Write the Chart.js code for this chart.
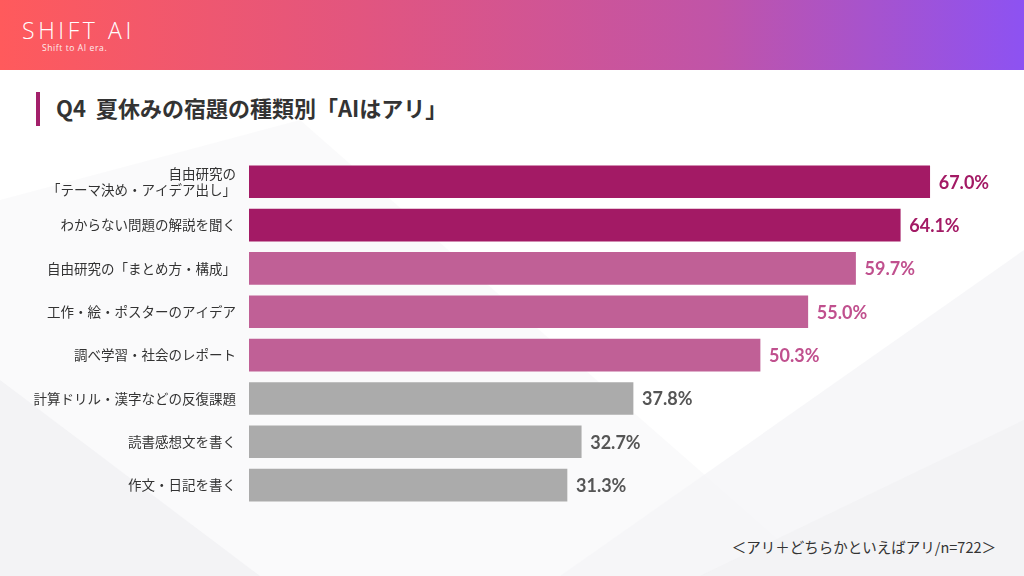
<!DOCTYPE html>
<html lang="ja">
<head>
<meta charset="utf-8">
<script src="https://cdn.jsdelivr.net/npm/chart.js@4/dist/chart.umd.min.js"></script>
<style>
  html, body { margin: 0; padding: 0; }
  body { width: 1024px; height: 576px; position: relative; overflow: hidden; background: #fff;
         font-family: "Noto Sans CJK JP", "Noto Sans", sans-serif; }
  #bg { position: absolute; left: 0; top: 70px; width: 1024px; height: 506px; }
  #header { position: absolute; left: 0; top: 0; width: 1024px; height: 70px;
            background: linear-gradient(90deg, #ff5a5c 0%, #e2557f 35%, #c054a8 70%, #8d52f2 100%); }
  #logo { position: absolute; left: 22px; top: 14px; color: #fff; font-family: "Open Sans", sans-serif;
          font-weight: 300; font-size: 23px; letter-spacing: 3.6px; }
  #tagline { position: absolute; left: 42px; top: 42px; color: #fff; font-family: "Open Sans", sans-serif;
             font-size: 8.5px; letter-spacing: 0.6px; opacity: 0.9; }
  #accent { position: absolute; left: 36px; top: 92px; width: 4px; height: 34px; background: #a3206a; }
  #title { position: absolute; left: 56px; top: 92px; font-size: 22px; font-weight: 700; color: #333;
           line-height: 30px; }
  #note { position: absolute; right: 28px; top: 536px; font-size: 14.5px; color: #333; }
  #wrap { position: absolute; left: 0; top: 147px; width: 1024px; height: 381px; }
</style>
</head>
<body>
<svg id="bg" viewBox="0 70 1024 506" preserveAspectRatio="none">
  <polygon points="0,200 300,120 820,576 0,576" fill="#f6f6f8" opacity="0.6"/>
  <polygon points="0,380 260,576 0,576" fill="#efeff2" opacity="0.6"/>
  <polygon points="560,576 1024,250 1024,576" fill="#f5f5f7" opacity="0.8"/>
  <polygon points="700,576 1024,420 1024,576" fill="#efeff2" opacity="0.5"/>
</svg>
<div id="header">
  <div id="logo">SHIFT AI</div>
  <div id="tagline">Shift to AI era.</div>
</div>
<div id="accent"></div>
<div id="title">Q4&nbsp; 夏休みの宿題の種類別「AIはアリ」</div>
<div id="wrap"><canvas id="c" width="1024" height="381"></canvas></div>
<div id="note">＜アリ＋どちらかといえばアリ/n=722＞</div>
<script>
var labels = [
  ["自由研究の", "「テーマ決め・アイデア出し」"],
  "わからない問題の解説を聞く",
  "自由研究の「まとめ方・構成」",
  "工作・絵・ポスターのアイデア",
  "調べ学習・社会のレポート",
  "計算ドリル・漢字などの反復課題",
  "読書感想文を書く",
  "作文・日記を書く"
];
var values = [67.0, 64.1, 59.7, 55.0, 50.3, 37.8, 32.7, 31.3];
var barColors = ["#a31a65", "#a31a65", "#c06096", "#c06096", "#c06096", "#ababab", "#ababab", "#ababab"];
var valueColors = ["#a31a65", "#a31a65", "#c0508e", "#c0508e", "#c0508e", "#555555", "#555555", "#555555"];

var valueLabels = {
  id: "valueLabels",
  afterDatasetsDraw: function (chart) {
    var ctx = chart.ctx;
    var meta = chart.getDatasetMeta(0);
    ctx.save();
    ctx.font = "700 18px Lato, 'Noto Sans', sans-serif";
    ctx.textBaseline = "middle";
    ctx.textAlign = "left";
    meta.data.forEach(function (bar, i) {
      ctx.fillStyle = valueColors[i];
      ctx.fillText(values[i].toFixed(1) + "%", bar.x + 9, bar.y + 1);
    });
    ctx.restore();
  }
};

new Chart(document.getElementById("c"), {
  type: "bar",
  data: {
    labels: labels,
    datasets: [{
      data: values,
      backgroundColor: barColors,
      borderWidth: 0,
      barThickness: 32
    }]
  },
  options: {
    indexAxis: "y",
    responsive: false,
    animation: false,
    layout: { padding: { top: 0, bottom: 0, right: 13, left: 0 } },
    plugins: { legend: { display: false }, tooltip: { enabled: false } },
    scales: {
      x: { display: false, min: 0, max: 75 },
      y: {
        grid: { display: false },
        border: { display: false },
        afterFit: function (scale) { scale.width = 249; },
        ticks: {
          color: "#333",
          padding: 5,
          font: { family: "'Noto Sans CJK JP', sans-serif", size: 13.5, lineHeight: 1.2 }
        }
      }
    }
  },
  plugins: [valueLabels]
});
</script>
</body>
</html>
